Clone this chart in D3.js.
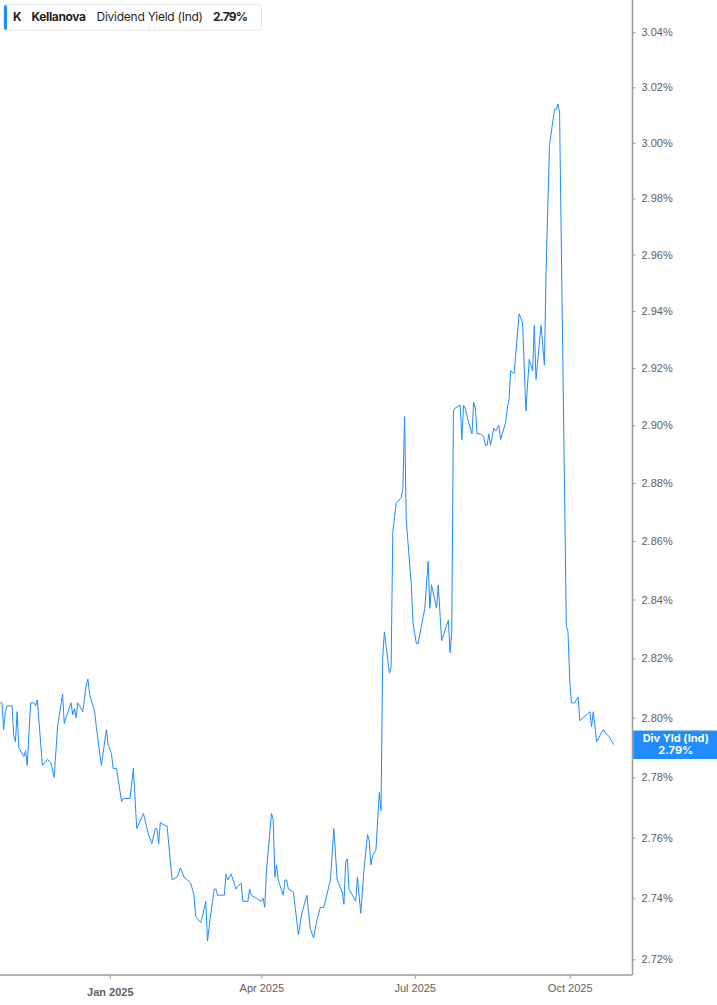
<!DOCTYPE html>
<html>
<head>
<meta charset="utf-8">
<script src="https://cdn.jsdelivr.net/npm/d3@7"></script>
<style>
  html, body { margin: 0; padding: 0; background: #fff; }
  svg { display: block; font-family: Inter, Roboto, "Noto Sans", sans-serif; }
  .axis path, .axis line { stroke: #9a9a9a; }
  .axis text { fill: #606060; font-size: 11px; }
</style>
</head>
<body>
<svg id="chart" width="717" height="1005"></svg>
<script>
// trading dates and the indicated dividend yield (%)
const dates = [
  '2024-10-28','2024-10-29','2024-10-30','2024-10-31','2024-11-01','2024-11-04','2024-11-05','2024-11-06','2024-11-07','2024-11-08',
  '2024-11-11','2024-11-12','2024-11-13','2024-11-15','2024-11-17','2024-11-18','2024-11-19','2024-11-22','2024-11-25','2024-11-27',
  '2024-11-29','2024-12-01','2024-12-04','2024-12-05','2024-12-06','2024-12-09','2024-12-10','2024-12-11','2024-12-12','2024-12-13',
  '2024-12-14','2024-12-16','2024-12-18','2024-12-19','2024-12-20','2024-12-23','2024-12-24','2024-12-27','2024-12-30','2024-12-31',
  '2025-01-02','2025-01-03','2025-01-05','2025-01-08','2025-01-09','2025-01-13','2025-01-15','2025-01-17','2025-01-21','2025-01-24',
  '2025-01-26','2025-01-28','2025-01-29','2025-01-30','2025-01-31','2025-02-03','2025-02-04','2025-02-07','2025-02-10','2025-02-12',
  '2025-02-14','2025-02-18','2025-02-20','2025-02-21','2025-02-24','2025-02-25','2025-02-27','2025-02-28','2025-03-02','2025-03-04',
  '2025-03-05','2025-03-06','2025-03-10','2025-03-11','2025-03-12','2025-03-14','2025-03-17','2025-03-18','2025-03-20','2025-03-21',
  '2025-03-24','2025-03-25','2025-03-26','2025-03-29','2025-04-01','2025-04-02','2025-04-03','2025-04-04','2025-04-07','2025-04-08',
  '2025-04-09','2025-04-10','2025-04-11','2025-04-14','2025-04-15','2025-04-16','2025-04-17','2025-04-20','2025-04-23','2025-04-25',
  '2025-04-28','2025-04-30','2025-05-02','2025-05-04','2025-05-06','2025-05-08','2025-05-12','2025-05-14','2025-05-16','2025-05-19',
  '2025-05-20','2025-05-21','2025-05-22','2025-05-23','2025-05-27','2025-05-28','2025-05-30','2025-06-01','2025-06-03','2025-06-04',
  '2025-06-05','2025-06-06','2025-06-08','2025-06-10','2025-06-11','2025-06-12','2025-06-13','2025-06-16','2025-06-17','2025-06-18',
  '2025-06-20','2025-06-23','2025-06-24','2025-06-25','2025-06-26','2025-06-29','2025-06-30','2025-07-02','2025-07-03','2025-07-07',
  '2025-07-09','2025-07-10','2025-07-11','2025-07-14','2025-07-15','2025-07-17','2025-07-21','2025-07-22','2025-07-23','2025-07-24',
  '2025-07-25','2025-07-28','2025-07-29','2025-07-30','2025-07-31','2025-08-02','2025-08-04','2025-08-05','2025-08-06','2025-08-07',
  '2025-08-09','2025-08-11','2025-08-12','2025-08-13','2025-08-14','2025-08-15','2025-08-17','2025-08-18','2025-08-20','2025-08-21',
  '2025-08-24','2025-08-25','2025-08-26','2025-08-27','2025-08-29','2025-09-01','2025-09-03','2025-09-05','2025-09-07','2025-09-09',
  '2025-09-10','2025-09-11','2025-09-14','2025-09-16','2025-09-17','2025-09-19','2025-09-22','2025-09-23','2025-09-24','2025-09-25',
  '2025-09-29','2025-09-30','2025-10-01','2025-10-02','2025-10-04','2025-10-06','2025-10-07','2025-10-09','2025-10-11','2025-10-13',
  '2025-10-14','2025-10-15','2025-10-17','2025-10-19','2025-10-21','2025-10-22','2025-10-24','2025-10-27'
];

const yields = [
  2.805,2.805,2.796,2.802,2.804,2.804,2.794,2.792,2.802,2.790,
  2.787,2.789,2.784,2.805,2.805,2.804,2.806,2.784,2.786,2.785,
  2.780,2.797,2.808,2.798,2.800,2.805,2.801,2.803,2.800,2.805,
  2.804,2.802,2.811,2.813,2.808,2.802,2.797,2.784,2.796,2.791,
  2.788,2.783,2.783,2.772,2.773,2.773,2.783,2.763,2.768,2.761,
  2.758,2.763,2.763,2.758,2.765,2.764,2.764,2.746,2.747,2.750,
  2.747,2.745,2.741,2.734,2.732,2.734,2.739,2.726,2.735,2.743,
  2.743,2.741,2.741,2.748,2.746,2.748,2.743,2.744,2.745,2.739,
  2.739,2.743,2.741,2.740,2.739,2.740,2.737,2.749,2.768,2.766,
  2.747,2.751,2.746,2.741,2.746,2.746,2.743,2.742,2.728,2.735,
  2.741,2.730,2.727,2.733,2.737,2.737,2.746,2.763,2.746,2.742,
  2.738,2.752,2.753,2.743,2.739,2.747,2.735,2.750,2.761,2.759,
  2.751,2.754,2.756,2.775,2.769,2.820,2.829,2.815,2.817,2.863,
  2.873,2.875,2.878,2.903,2.867,2.845,2.832,2.825,2.825,2.837,
  2.853,2.837,2.845,2.837,2.845,2.826,2.833,2.822,2.829,2.905,
  2.906,2.907,2.895,2.907,2.906,2.901,2.897,2.908,2.906,2.897,
  2.897,2.896,2.893,2.893,2.897,2.893,2.899,2.898,2.900,2.895,
  2.901,2.906,2.909,2.919,2.918,2.939,2.936,2.905,2.923,2.919,
  2.935,2.916,2.935,2.921,2.954,2.999,3.012,3.012,3.014,3.011,
  2.831,2.829,2.813,2.805,2.805,2.807,2.799,2.800,2.801,2.802,
  2.797,2.802,2.792,2.794,2.796,2.795,2.794,2.791
];

const xDomain = ['2024-10-27 20:00', '2025-11-07 07:00'];
const xTicks = ['2025-01-01', '2025-04-01', '2025-07-01', '2025-10-01'];
const xTickLabels = ['Jan 2025', 'Apr 2025', 'Jul 2025', 'Oct 2025'];
const yTicks = [2.72, 2.74, 2.76, 2.78, 2.80, 2.82, 2.84, 2.86, 2.88, 2.90, 2.92, 2.94, 2.96, 2.98, 3.00, 3.02, 3.04];

const legend = { ticker: 'K', name: 'Kellanova', field: 'Dividend Yield (Ind)', last: '2.79%' };
const endLabel = ['Div Yld (Ind)', '2.79%'];

let
  width = 717,
  height = 1005,
  plotRight = 632.5,
  plotBottom = 975,
  blue = '#1f8cff',
  parseDay = d3.timeParse('%Y-%m-%d'),
  parseHour = d3.timeParse('%Y-%m-%d %H:%M');

let data = dates.map((d, i) => ({ date: parseDay(d), value: yields[i] }));

let x = d3.scaleTime()
  .domain(xDomain.map(parseHour))
  .range([0, plotRight]);

// the price axis is logarithmic: gaps between ticks grow toward the bottom
let y = d3.scaleLog()
  .domain([2.72, 3.04])
  .range([959.3, 32.3]);

let svg = d3.select('#chart');

// legend chip in the top-left corner
let lg = svg.append('g').attr('class', 'legend');
lg.append('rect')
  .attr('x', 3.5).attr('y', 4.5)
  .attr('width', 258).attr('height', 25.5)
  .attr('rx', 3)
  .attr('fill', '#fff')
  .attr('stroke', '#e6e6e6');
lg.append('rect')
  .attr('x', 4).attr('y', 5.5)
  .attr('width', 3).attr('height', 24)
  .attr('fill', blue);

let lgText = [
  { t: legend.ticker, x: 13, w: 700, len: null },
  { t: legend.name, x: 31.5, w: 700, len: 54.5 },
  { t: legend.field, x: 96.5, w: 400, len: 106.5 },
  { t: legend.last, x: 213, w: 700, len: 35 }
];
lg.selectAll('text.item').data(lgText)
  .enter().append('text')
  .attr('class', 'item')
  .attr('x', d => d.x)
  .attr('y', 21)
  .attr('font-size', 12)
  .attr('font-weight', d => d.w)
  .attr('fill', '#1f1f1f')
  .attr('textLength', d => d.len)
  .attr('lengthAdjust', 'spacing')
  .text(d => d.t);

// axes
let y_axis = d3.axisRight(y)
  .tickValues(yTicks)
  .tickSize(3)
  .tickPadding(6)
  .tickFormat(d => d3.format('.2f')(d) + '%');

let yg = svg.append('g')
  .attr('class', 'axis axis--y')
  .attr('transform', `translate(${plotRight}, 0)`)
  .call(y_axis);
yg.select('.domain').remove();
yg.append('line')
  .attr('x1', 0).attr('x2', 0)
  .attr('y1', 0).attr('y2', plotBottom)
  .attr('stroke', '#a0a0a0')
  .attr('stroke-width', 1.5);

let x_axis = d3.axisBottom(x)
  .tickValues(xTicks.map(parseDay))
  .tickSize(4)
  .tickPadding(5.5)
  .tickFormat((d, i) => xTickLabels[i]);

let xg = svg.append('g')
  .attr('class', 'axis axis--x')
  .attr('transform', `translate(0, ${plotBottom})`)
  .call(x_axis);
xg.select('.domain').remove();
xg.append('line')
  .attr('x1', 0).attr('x2', plotRight)
  .attr('y1', 0).attr('y2', 0)
  .attr('stroke', '#a0a0a0')
  .attr('stroke-width', 1.5);
xg.selectAll('.tick text')
  .filter((d, i) => i === 0)
  .attr('font-weight', 700)
  .attr('font-size', 12.5)
  .attr('fill', '#555')
  .attr('dy', 11.2);

// series
let line = d3.line()
  .x(d => x(d.date))
  .y(d => y(d.value));

svg.append('path')
  .datum(data)
  .attr('class', 'series')
  .attr('fill', 'none')
  .attr('stroke', blue)
  .attr('stroke-width', 1)
  .attr('stroke-linejoin', 'round')
  .attr('d', line);

// last value tag on the axis
let lastY = y(data[data.length - 1].value);
let tag = svg.append('g').attr('class', 'end-label');
tag.append('rect')
  .attr('x', plotRight + 0.75)
  .attr('y', lastY - 14)
  .attr('width', width - plotRight)
  .attr('height', 28.5)
  .attr('fill', blue);
tag.selectAll('text').data(endLabel)
  .enter().append('text')
  .attr('x', (plotRight + width) / 2 + 1)
  .attr('y', (d, i) => lastY - 3 + i * 12)
  .attr('text-anchor', 'middle')
  .attr('font-size', 11)
  .attr('font-weight', 700)
  .attr('fill', '#fff')
  .text(d => d);
</script>
</body>
</html>
